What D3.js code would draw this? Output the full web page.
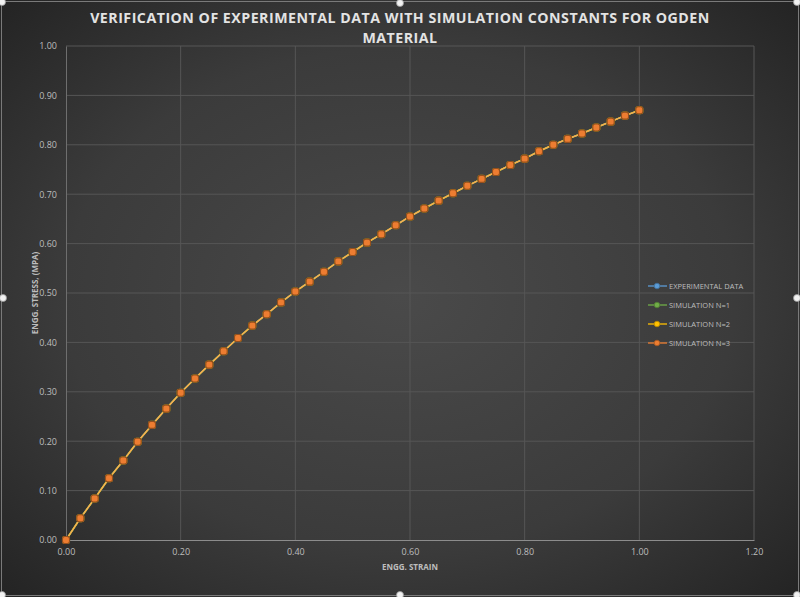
<!DOCTYPE html>
<html>
<head>
<meta charset="utf-8">
<script src="https://cdn.jsdelivr.net/npm/d3@7"></script>
<style>
  html, body { margin: 0; padding: 0; background: #2b2b2b; }
  svg { display: block; }
  text { font-family: "Open Sans", "Liberation Sans", sans-serif; }
</style>
</head>
<body>
<script>
// Engineering strain values (every 0.025)
var strain = [0, 0.025, 0.05, 0.075, 0.1, 0.125, 0.15, 0.175, 0.2, 0.225,
              0.25, 0.275, 0.3, 0.325, 0.35, 0.375, 0.4, 0.425, 0.45, 0.475,
              0.5, 0.525, 0.55, 0.575, 0.6, 0.625, 0.65, 0.675, 0.7, 0.725,
              0.75, 0.775, 0.8, 0.825, 0.85, 0.875, 0.9, 0.925, 0.95, 0.975, 1.0];

// Engineering stress (MPa)
var experimentalStress = [0, 0.044, 0.084, 0.125, 0.161, 0.199, 0.233, 0.266, 0.298, 0.327,
                          0.355, 0.382, 0.409, 0.434, 0.457, 0.481, 0.503, 0.523, 0.543, 0.564,
                          0.583, 0.602, 0.619, 0.637, 0.655, 0.671, 0.687, 0.702, 0.717, 0.731,
                          0.745, 0.759, 0.772, 0.787, 0.800, 0.812, 0.823, 0.835, 0.847, 0.859, 0.870];
var simN1Stress = experimentalStress.slice();
var simN2Stress = experimentalStress.slice();
var simN3Stress = experimentalStress.slice();

var seriesNames = ['EXPERIMENTAL DATA', 'SIMULATION N=1', 'SIMULATION N=2', 'SIMULATION N=3'];
var seriesValues = [experimentalStress, simN1Stress, simN2Stress, simN3Stress];
var seriesColors = ['#5b9bd5', '#70ad47', '#ffc000', '#ed7d31'];

var xTicks = [0, 0.2, 0.4, 0.6, 0.8, 1.0, 1.2];
var yTicks = [0, 0.1, 0.2, 0.3, 0.4, 0.5, 0.6, 0.7, 0.8, 0.9, 1.0];

var W = 800, H = 597;
var plot = { left: 66, right: 754, top: 46, bottom: 540 };

let svg = d3.select('body').append('svg')
    .attr('width', W)
    .attr('height', H);

// Dark background with radial shading like the Excel chart style
let defs = svg.append('defs');
let grad = defs.append('radialGradient')
    .attr('id', 'bg')
    .attr('cx', '50%').attr('cy', '50%').attr('r', '70%');
grad.append('stop').attr('offset', '0%').attr('stop-color', '#4a4a4a');
grad.append('stop').attr('offset', '60%').attr('stop-color', '#3b3b3b');
grad.append('stop').attr('offset', '100%').attr('stop-color', '#242424');

svg.append('rect')
    .attr('width', W).attr('height', H)
    .attr('fill', 'url(#bg)');

// Frame of the selected chart object
svg.append('rect')
    .attr('x', 1.5).attr('y', 1.5)
    .attr('width', W - 3).attr('height', H - 3)
    .attr('fill', 'none')
    .attr('stroke', '#7a7a7a')
    .attr('stroke-width', 1);

let xScale = d3.scaleLinear()
    .domain([0, 1.2])
    .range([plot.left, plot.right]);

let yScale = d3.scaleLinear()
    .domain([0, 1])
    .range([plot.bottom, plot.top]);

// Grid lines
svg.append('g')
    .selectAll('line')
    .data(yTicks.slice(1))
    .join('line')
    .attr('x1', plot.left).attr('x2', plot.right)
    .attr('y1', d => yScale(d)).attr('y2', d => yScale(d))
    .attr('stroke', '#565656')
    .attr('stroke-width', 1);

svg.append('g')
    .selectAll('line')
    .data(xTicks.slice(1))
    .join('line')
    .attr('x1', d => xScale(d)).attr('x2', d => xScale(d))
    .attr('y1', plot.top).attr('y2', plot.bottom)
    .attr('stroke', '#565656')
    .attr('stroke-width', 1);

// Axes
let xAxis = d3.axisBottom(xScale).tickValues(xTicks).tickSize(0).tickPadding(9)
    .tickFormat(d3.format('.2f'));
let yAxis = d3.axisLeft(yScale).tickValues(yTicks).tickSize(0).tickPadding(9)
    .tickFormat(d3.format('.2f'));

let gx = svg.append('g')
    .attr('transform', 'translate(0,' + plot.bottom + ')')
    .call(xAxis);
let gy = svg.append('g')
    .attr('transform', 'translate(' + plot.left + ',0)')
    .call(yAxis);

gx.select('.domain').attr('stroke', '#8c8c8c').attr('stroke-width', 1.2);
gy.select('.domain').attr('stroke', '#6e6e6e').attr('stroke-width', 1);
svg.selectAll('.tick text')
    .attr('fill', '#bdbdbd')
    .style('font-size', '9px')
    .style('font-family', '"Open Sans", sans-serif');

// Axis titles
svg.append('text')
    .attr('x', (plot.left + plot.right) / 2)
    .attr('y', 570)
    .attr('text-anchor', 'middle')
    .attr('fill', '#bdbdbd')
    .style('font-size', '8px')
    .style('font-weight', 'bold')
    .text('ENGG. STRAIN');

svg.append('text')
    .attr('transform', 'translate(38,' + ((plot.top + plot.bottom) / 2) + ') rotate(-90)')
    .attr('text-anchor', 'middle')
    .attr('fill', '#bdbdbd')
    .style('font-size', '8px')
    .style('font-weight', 'bold')
    .text('ENGG. STRESS, (MPA)');

// Title
let title = svg.append('text')
    .attr('x', 400)
    .attr('y', 23)
    .attr('text-anchor', 'middle')
    .attr('fill', '#e3e3e3')
    .style('font-size', '14.2px')
    .style('font-weight', 'bold')
    .style('letter-spacing', '0.5px');
title.append('tspan').attr('x', 400).attr('dy', 0)
    .text('VERIFICATION OF EXPERIMENTAL DATA WITH SIMULATION CONSTANTS FOR OGDEN');
title.append('tspan').attr('x', 400).attr('dy', 20)
    .text('MATERIAL');

// Series lines and markers (they sit on top of each other)
let line = d3.line()
    .x((d, i) => xScale(strain[i]))
    .y(d => yScale(d));

seriesValues.forEach(function(vals, s) {
    svg.append('path')
        .datum(vals)
        .attr('d', line)
        .attr('fill', 'none')
        .attr('stroke', s === 3 ? '#f0a868' : seriesColors[s])
        .attr('stroke-width', s === 3 ? 1.1 : 1.5);
});

seriesValues.forEach(function(vals, s) {
    svg.append('g')
        .selectAll('rect')
        .data(vals)
        .join('rect')
        .attr('x', (d, i) => xScale(strain[i]) - 3.5)
        .attr('y', d => yScale(d) - 3.5)
        .attr('width', 7).attr('height', 7)
        .attr('rx', 2.2)
        .attr('fill', seriesColors[s])
        .attr('stroke', d3.color(seriesColors[s]).darker(1.3))
        .attr('stroke-width', 1.1);
});

// Legend
let legend = svg.append('g');
seriesNames.forEach(function(name, s) {
    let y = 286 + s * 19;
    legend.append('line')
        .attr('x1', 648).attr('x2', 667)
        .attr('y1', y).attr('y2', y)
        .attr('stroke', seriesColors[s])
        .attr('stroke-width', 1.3);
    legend.append('circle')
        .attr('cx', 657).attr('cy', y).attr('r', 2.8)
        .attr('fill', seriesColors[s])
        .attr('stroke', d3.color(seriesColors[s]).darker(1))
        .attr('stroke-width', 0.8);
    legend.append('text')
        .attr('x', 669).attr('y', y + 3)
        .attr('fill', '#bdbdbd')
        .style('font-size', '7.5px')
        .text(name);
});

// Selection handles around the chart object
let handles = [[2, 2], [400, 3], [797, 2], [3, 298], [797, 298], [2, 595], [400, 595], [797, 595]];
svg.append('g')
    .selectAll('circle')
    .data(handles)
    .join('circle')
    .attr('cx', d => d[0]).attr('cy', d => d[1])
    .attr('r', 3.5)
    .attr('fill', '#f2f2f2')
    .attr('stroke', '#9a9a9a')
    .attr('stroke-width', 0.8);
</script>
</body>
</html>
